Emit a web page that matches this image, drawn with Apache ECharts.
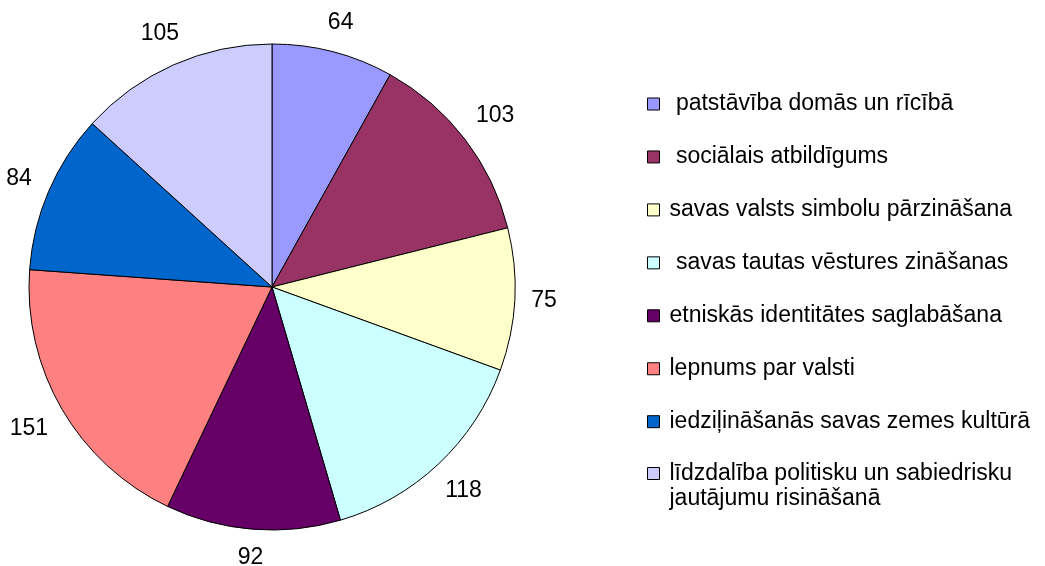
<!DOCTYPE html>
<html>
<head>
<meta charset="utf-8">
<script src="https://cdn.jsdelivr.net/npm/echarts@6/dist/echarts.min.js"></script>
<style>
  html, body { margin: 0; padding: 0; background: #fff; }
  #main { width: 1045px; height: 566px; }
</style>
</head>
<body>
<div id="main"></div>
<script>
var categories = [
  ' patstāvība domās un rīcībā',
  ' sociālais atbildīgums',
  'savas valsts simbolu pārzināšana',
  ' savas tautas vēstures zināšanas',
  'etniskās identitātes saglabāšana',
  'lepnums par valsti',
  'iedziļināšanās savas zemes kultūrā',
  'līdzdalība politisku un sabiedrisku\njautājumu risināšanā'
];
var values = [64, 103, 75, 118, 92, 151, 84, 105];
var colors = ['#9999FF', '#993366', '#FFFFCC', '#CCFFFF', '#660066', '#FF8080', '#0066CC', '#CCCCFF'];

var chartDom = document.getElementById('main');
var myChart = echarts.init(chartDom);
var font = 'Liberation Sans, Arial, sans-serif';

var cx = 272, cy = 287, R = 243, labelGap = 16;
var total = values.reduce(function (a, b) { return a + b; }, 0);

// middle angle of each slice, clockwise from 12 o'clock
function midAngle(i) {
  var before = 0;
  for (var k = 0; k < i; k++) before += values[k];
  return (before + values[i] / 2) / total * 2 * Math.PI;
}

var legendText = {
  fontFamily: font,
  fontSize: 23,
  lineHeight: 25,
  color: '#000',
  padding: [0, 0, 0, 5]
};

var option = {
  animation: false,
  color: colors,
  legend: [
    {
      orient: 'vertical',
      left: 647,
      top: 91.5,
      padding: 0,
      itemGap: 27.95,
      itemWidth: 12,
      itemHeight: 12,
      icon: 'rect',
      selectedMode: false,
      itemStyle: { borderColor: '#000', borderWidth: 1 },
      textStyle: legendText,
      data: categories.slice(0, 7)
    },
    {
      // two-line item: empty first line keeps the icon next to line one
      orient: 'vertical',
      left: 647,
      top: 436,
      padding: 0,
      itemWidth: 12,
      itemHeight: 12,
      icon: 'rect',
      selectedMode: false,
      itemStyle: { borderColor: '#000', borderWidth: 1 },
      textStyle: legendText,
      formatter: function (name) { return ' \n' + name; },
      data: categories.slice(7)
    }
  ],
  series: [
    {
      type: 'pie',
      center: [cx, cy],
      radius: R,
      startAngle: 90,
      clockwise: true,
      data: categories.map(function (c, i) {
        return { name: c, value: values[i] };
      }),
      itemStyle: { borderColor: '#000', borderWidth: 1 },
      label: {
        show: true,
        position: 'outside',
        formatter: '{c}',
        overflow: 'none',
        fontFamily: font,
        fontSize: 23,
        color: '#000'
      },
      labelLine: { show: false, length: 12, length2: 0 },
      labelLayout: function (params) {
        var a = midAngle(params.dataIndex);
        var sx = Math.sin(a), sy = -Math.cos(a);
        var w = params.labelRect.width, h = params.labelRect.height;
        var ext = Math.abs(sx) * w / 2 + Math.abs(sy) * h / 2;
        var d = R + labelGap + ext;
        return {
          x: cx + d * sx,
          y: cy + d * sy,
          align: 'center',
          verticalAlign: 'middle'
        };
      },
      emphasis: { disabled: true }
    }
  ]
};

myChart.setOption(option);
</script>
</body>
</html>
